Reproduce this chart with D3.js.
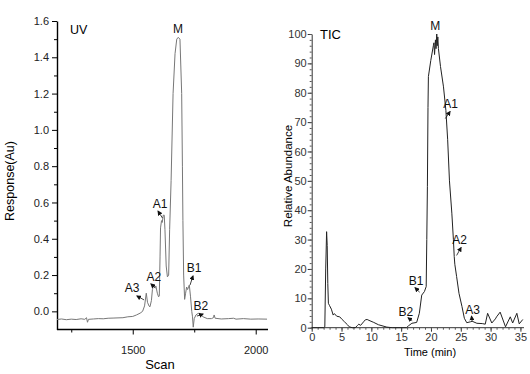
<!DOCTYPE html>
<html>
<head>
<meta charset="utf-8">
<script src="https://cdn.jsdelivr.net/npm/d3@7"></script>
<style>
  body { margin: 0; background: #fff; }
  text { font-family: "Liberation Sans", Arial, sans-serif; }
  .narrow text, text.narrow { font-family: "Liberation Sans Narrow", "Arial Narrow", "Liberation Sans", sans-serif; }
</style>
</head>
<body>
<svg id="chart" width="530" height="374"></svg>
<script>
// UV trace: [scan, response]
var uvScan = [1192,1210,1230,1250,1270,1290,1305,1312,1316,1320,1340,1360,1380,1400,1420,1440,1460,1480,1500,1515,1530,1540,1548,1555,1560,1566,1570,1576,1580,1585,1590,1594,1600,1605,1608,1611,1613,1617,1620,1624,1628,1631,1636,1641,1646,1650,1656,1664,1672,1679,1685,1692,1699,1702,1704,1707,1711,1715,1719,1723,1730,1735,1740,1743,1746,1750,1757,1765,1770,1778,1786,1803,1820,1828,1831,1835,1860,1890,1910,1920,1950,1980,2010,2046];
var uvResp = [-0.045,-0.042,-0.046,-0.043,-0.045,-0.041,-0.044,-0.035,-0.06,-0.044,-0.042,-0.040,-0.041,-0.038,-0.037,-0.036,-0.035,-0.030,-0.028,-0.02,-0.01,0.0,0.03,0.10,0.05,0.03,0.025,0.06,0.12,0.145,0.13,0.14,0.10,0.08,0.085,0.3,0.46,0.50,0.49,0.53,0.53,0.45,0.25,0.19,0.2,0.45,0.72,1.2,1.42,1.50,1.51,1.50,1.2,0.8,0.5,0.2,0.066,0.10,0.134,0.12,0.145,0.08,0.0,-0.03,-0.087,-0.04,-0.02,-0.012,-0.01,-0.02,-0.03,-0.04,-0.04,-0.035,-0.02,-0.038,-0.042,-0.04,-0.038,-0.043,-0.04,-0.043,-0.042,-0.043];

// TIC trace: [time (min), relative abundance]
var ticTime = [0,1,2,2.2,2.35,2.5,2.6,2.7,2.8,3.0,3.3,3.6,3.8,4.2,4.7,5.1,5.5,6.0,6.3,6.8,7.3,7.7,7.9,8.2,8.7,9.0,9.3,9.6,10.4,11.2,12.6,13.5,15.9,16.2,16.8,17.6,18.05,18.45,18.9,19.2,19.3,19.4,19.5,19.57,19.97,20.4,20.5,20.6,20.75,20.85,20.97,21.05,21.15,21.25,21.6,22.1,22.5,22.8,23.1,23.5,23.76,23.9,24.0,24.3,24.7,25.2,25.6,26.0,26.6,26.9,27.7,28.6,29.1,29.5,30.2,30.8,31.0,31.6,32.5,33.3,33.7,34.4,34.8,35.4];
var ticAbund = [0,0,0,0.3,20,32.7,28,15,8.3,7.5,6.3,4.3,4.8,3.9,3.7,2.8,2.0,1.0,0.3,0,0,0.8,1.2,0.8,2.0,2.7,2.8,2.5,1.8,1.0,0.2,0,0,0.6,1.5,1.8,4.9,11.1,12.3,14,30,48,75,85.5,91,96,97,93,98,95,100,96,99,95,88.9,82,74,64,50,39,30,24.2,21.6,17.4,11.7,7.2,3.2,1.7,2.0,2.2,1.5,1.4,1.2,4.9,1.6,3.0,3.7,5.3,0.3,3.7,1.6,4.9,1.3,2.8];

// tick values
var uvYMajor = [0, 0.2, 0.4, 0.6, 0.8, 1.0, 1.2, 1.4, 1.6];
var uvYMinor = [0.1, 0.3, 0.5, 0.7, 0.9, 1.1, 1.3, 1.5];
var uvXMajor = [1500, 2000];
var uvXMinor = [1250, 1750];
var ticYMajor = d3.range(0, 101, 10);
var ticYMinor = d3.range(0, 101, 2);
var ticXMajor = d3.range(0, 36, 5);
var ticXMinor = d3.range(0, 36, 1);

// peak labels, in data units: text point, arrow head, arrow tail
var uvNotes = [
  {t: "M",  x: 1684, y: 1.534},
  {t: "A1", x: 1611, y: 0.569, hx: 1603, hy: 0.552, sx: 1621, sy: 0.514},
  {t: "A2", x: 1586, y: 0.167, hx: 1574, hy: 0.151, sx: 1592, sy: 0.129},
  {t: "A3", x: 1497, y: 0.107, hx: 1517, hy: 0.085, sx: 1546, sy: 0.063},
  {t: "B1", x: 1749, y: 0.217, hx: 1745, hy: 0.195, sx: 1733, sy: 0.145},
  {t: "B2", x: 1777, y: 0.007, hx: 1786, hy: -0.015, sx: 1761, sy: -0.026}
];
var ticNotes = [
  {t: "M",  x: 20.7, y: 101.4},
  {t: "A1", x: 23.3, y: 74.8, hx: 23.2, hy: 73.6, sx: 22.4, sy: 71.2},
  {t: "A2", x: 24.8, y: 28.5, hx: 25.05, hy: 27.3, sx: 24.3, sy: 24.6},
  {t: "B1", x: 17.5, y: 14.7, hx: 17.33, hy: 13.6, sx: 18.1, sy: 12.1},
  {t: "B2", x: 15.8, y: 4.15, hx: 16.16, hy: 3.4, sx: 16.85, sy: 2.4},
  {t: "A3", x: 27.0, y: 4.5, hx: 26.8, hy: 3.9, sx: 26.9, sy: 2.2}
];

var svg = d3.select('#chart');

svg.append('defs').append('marker')
    .attr('id', 'head')
    .attr('viewBox', '0 0 10 10')
    .attr('refX', 8).attr('refY', 5)
    .attr('markerWidth', 5).attr('markerHeight', 5)
    .attr('markerUnits', 'userSpaceOnUse')
    .attr('orient', 'auto')
  .append('path')
    .attr('d', 'M0,0L10,5L0,10z')
    .style('fill', '#111');

function drawNotes(g, notes, x, y, size) {
    notes.forEach(function (d) {
        g.append('text')
            .attr('x', x(d.x)).attr('y', y(d.y))
            .attr('text-anchor', 'middle')
            .style('font-size', size + 'px')
            .style('fill', '#111')
            .text(d.t);
        if (d.hx !== undefined) {
            g.append('line')
                .attr('x1', x(d.sx)).attr('y1', y(d.sy))
                .attr('x2', x(d.hx)).attr('y2', y(d.hy))
                .attr('marker-end', 'url(#head)')
                .style('stroke', '#111').style('stroke-width', 0.8);
        }
    });
}

// ---------- UV panel ----------
var uvX = d3.scaleLinear().domain([1192, 2050]).range([57, 268]);
var uvY = d3.scaleLinear().domain([-0.1, 1.6]).range([329.5, 21]);
var uv = svg.append('g');

uv.append('g')
    .attr('transform', 'translate(0,' + uvY(-0.1) + ')')
    .call(d3.axisBottom(uvX).tickValues(uvXMajor).tickSize(5).tickSizeOuter(0).tickPadding(12).tickFormat(d3.format('d')))
    .call(function (a) {
        a.select('.domain').attr('d', 'M57,0H268').style('stroke-width', 1.4);
        a.selectAll('text').style('font-size', '11px').style('font-family', '"Liberation Sans", Arial, sans-serif').style('fill', '#222');
    });
uv.append('g')
    .attr('transform', 'translate(0,' + uvY(-0.1) + ')')
    .call(d3.axisBottom(uvX).tickValues(uvXMinor).tickSize(3).tickFormat(''))
    .call(function (a) { a.select('.domain').remove(); });

uv.append('g')
    .attr('transform', 'translate(57,0)')
    .call(d3.axisLeft(uvY).tickValues(uvYMajor).tickSize(5).tickSizeOuter(0).tickPadding(3).tickFormat(d3.format('.1f')))
    .call(function (a) {
        a.select('.domain').style('stroke-width', 1.4);
        a.selectAll('text').style('font-size', '11px').style('font-family', '"Liberation Sans", Arial, sans-serif').style('fill', '#222');
    });
uv.append('g')
    .attr('transform', 'translate(57,0)')
    .call(d3.axisLeft(uvY).tickValues(uvYMinor).tickSize(3).tickFormat(''))
    .call(function (a) { a.select('.domain').remove(); });

uv.append('path')
    .datum(d3.zip(uvScan, uvResp))
    .attr('d', d3.line().x(function (d) { return uvX(d[0]); }).y(function (d) { return uvY(d[1]); }))
    .style('fill', 'none').style('stroke', '#777').style('stroke-width', 1);

uv.append('text').attr('x', 70).attr('y', 34).style('font-size', '12.5px').text('UV');
uv.append('text').attr('x', 160).attr('y', 369).attr('text-anchor', 'middle').style('font-size', '13px').text('Scan');
uv.append('text')
    .attr('transform', 'translate(14,181) rotate(-90)')
    .attr('text-anchor', 'middle')
    .style('font-size', '12.5px').text('Response(Au)');

drawNotes(uv, uvNotes, uvX, uvY, 12);

// ---------- TIC panel ----------
var ticX = d3.scaleLinear().domain([0, 35.6]).range([311.7, 524]);
var ticY = d3.scaleLinear().domain([0, 100]).range([327.7, 34]);
var tic = svg.append('g').attr('class', 'narrow');

tic.append('g')
    .attr('transform', 'translate(0,' + ticY(0) + ')')
    .call(d3.axisBottom(ticX).tickValues(ticXMajor).tickSize(4).tickSizeOuter(0).tickPadding(2))
    .call(function (a) {
        a.select('.domain').attr('d', 'M311.7,0H524').style('stroke', '#333');
        a.selectAll('line').style('stroke', '#333');
        a.selectAll('text').style('font-size', '11px').style('fill', '#333').style('font-family', null);
    });
tic.append('g')
    .attr('transform', 'translate(0,' + ticY(0) + ')')
    .call(d3.axisBottom(ticX).tickValues(ticXMinor).tickSize(2).tickFormat(''))
    .call(function (a) { a.select('.domain').remove(); a.selectAll('line').style('stroke', '#555'); });

tic.append('g')
    .attr('transform', 'translate(311.7,0)')
    .call(d3.axisLeft(ticY).tickValues(ticYMajor).tickSize(4).tickSizeOuter(0).tickPadding(1))
    .call(function (a) {
        a.select('.domain').style('stroke', '#333');
        a.selectAll('line').style('stroke', '#333');
        a.selectAll('text').style('font-size', '11px').style('fill', '#333').style('font-family', null);
    });
tic.append('g')
    .attr('transform', 'translate(311.7,0)')
    .call(d3.axisLeft(ticY).tickValues(ticYMinor).tickSize(2).tickFormat(''))
    .call(function (a) { a.select('.domain').remove(); a.selectAll('line').style('stroke', '#555'); });

tic.append('path')
    .datum(d3.zip(ticTime, ticAbund))
    .attr('d', d3.line().x(function (d) { return ticX(d[0]); }).y(function (d) { return ticY(d[1]); }))
    .style('fill', 'none').style('stroke', '#222').style('stroke-width', 1);

tic.append('text').attr('x', 320).attr('y', 39).style('font-size', '13px')
    .style('font-family', '"Liberation Sans", Arial, sans-serif').text('TIC');
tic.append('text').attr('x', 430).attr('y', 356).attr('text-anchor', 'middle').style('font-size', '11px').text('Time (min)');
tic.append('text')
    .attr('transform', 'translate(292,176) rotate(-90)')
    .attr('text-anchor', 'middle')
    .style('font-size', '11.5px').text('Relative Abundance');

var tn = tic.append('g').style('font-family', '"Liberation Sans", Arial, sans-serif');
drawNotes(tn, ticNotes, ticX, ticY, 12);
tn.selectAll('text').style('font-family', '"Liberation Sans", Arial, sans-serif');
</script>
</body>
</html>
